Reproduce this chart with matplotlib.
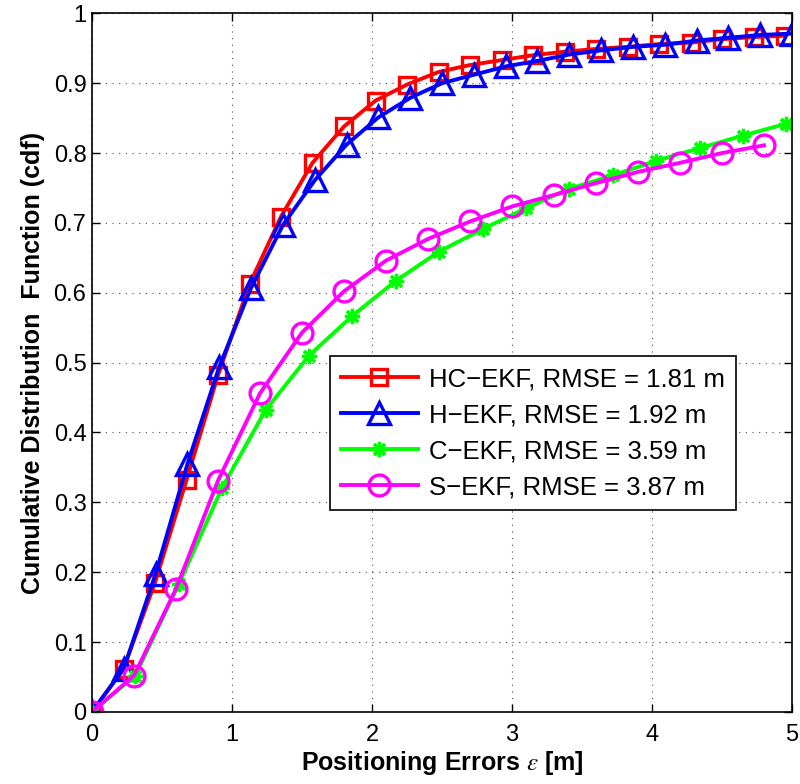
import matplotlib
matplotlib.use("Agg")
import matplotlib.pyplot as plt

plt.rcParams["font.family"] = ["Liberation Sans", "DejaVu Sans"]
plt.rcParams["mathtext.fontset"] = "stix"

# HC-EKF
hc_x = [0, 0.225, 0.45, 0.675, 0.9, 1.125, 1.35, 1.575, 1.8, 2.025, 2.25, 2.475,
        2.7, 2.925, 3.15, 3.375, 3.6, 3.825, 4.05, 4.275, 4.5, 4.725, 4.95]
hc_y = [0, 0.062, 0.185, 0.332, 0.482, 0.612, 0.709, 0.786, 0.838, 0.875, 0.898, 0.916,
        0.926, 0.933, 0.940, 0.945, 0.949, 0.952, 0.956, 0.958, 0.963, 0.966, 0.968]

# H-EKF
h_x = [0, 0.227, 0.455, 0.682, 0.909, 1.136, 1.364, 1.591, 1.818, 2.045, 2.273, 2.5,
       2.727, 2.955, 3.182, 3.409, 3.636, 3.864, 4.091, 4.318, 4.545, 4.773, 5.0]
h_y = [0, 0.062, 0.198, 0.355, 0.494, 0.607, 0.697, 0.761, 0.812, 0.851, 0.879, 0.900,
       0.912, 0.924, 0.932, 0.941, 0.947, 0.952, 0.955, 0.961, 0.965, 0.969, 0.971]

# C-EKF
c_x = [0, 0.31, 0.62, 0.93, 1.24, 1.55, 1.86, 2.17, 2.48, 2.79, 3.1, 3.41,
       3.72, 4.03, 4.34, 4.65, 4.96]
c_y = [0, 0.052, 0.183, 0.321, 0.432, 0.51, 0.567, 0.617, 0.659, 0.691, 0.721, 0.749,
       0.768, 0.789, 0.807, 0.825, 0.842]

# S-EKF
s_x = [0, 0.3, 0.6, 0.9, 1.2, 1.5, 1.8, 2.1, 2.4, 2.7, 3.0, 3.3,
       3.6, 3.9, 4.2, 4.5, 4.8]
s_y = [0, 0.052, 0.176, 0.331, 0.456, 0.543, 0.602, 0.646, 0.677, 0.702, 0.7235, 0.740,
       0.757, 0.773, 0.786, 0.800, 0.811]

labels = ["HC\u2212EKF, RMSE = 1.81 m", "H\u2212EKF, RMSE = 1.92 m",
          "C\u2212EKF, RMSE = 3.59 m", "S\u2212EKF, RMSE = 3.87 m"]

fig = plt.figure(figsize=(8, 7.84), dpi=100)
ax = fig.add_axes([0.115, 0.092, 0.875, 0.891])

lw = 2.8
ax.plot(hc_x, hc_y, color="#ff0000", marker="s", markersize=12, mfc="none",
        mew=2.4, linewidth=lw, label=labels[0])
ax.plot(h_x, h_y, color="#0000ff", marker="^", markersize=16, mfc="none",
        mew=2.4, linewidth=lw, label=labels[1])
ax.plot(c_x, c_y, color="#00ff00", marker=(8, 2, 0), markersize=11,
        mew=2.4, linewidth=lw, label=labels[2])
ax.plot(s_x, s_y, color="#ff00ff", marker="o", markersize=15, mfc="none",
        mew=2.4, linewidth=lw, label=labels[3])

ax.set_xlim(0, 5)
ax.set_ylim(0, 1)
ax.set_xticks([0, 1, 2, 3, 4, 5])
ax.set_yticks([0, 0.1, 0.2, 0.3, 0.4, 0.5, 0.6, 0.7, 0.8, 0.9, 1])
ax.set_yticklabels(["0", "0.1", "0.2", "0.3", "0.4", "0.5", "0.6", "0.7", "0.8", "0.9", "1"])
ax.tick_params(direction="in", top=True, right=True, labelsize=17, length=6, width=1)
ax.tick_params(axis="x", pad=9)
ax.tick_params(axis="y", pad=4)
ax.grid(True, linestyle=(0, (1, 5)), color="black", linewidth=0.8, alpha=0.7)
for sp in ax.spines.values():
    sp.set_linewidth(1.2)

ax.set_xlabel(r"Positioning Errors $\varepsilon$ [m]", fontsize=18, fontweight="bold",
              labelpad=2)
ax.set_ylabel("Cumulative Distribution  Function (cdf)", fontsize=18, fontweight="bold",
              labelpad=6)

leg = ax.legend(loc="upper left", bbox_to_anchor=(0.34, 0.509), fontsize=18.5,
                fancybox=False, framealpha=1, edgecolor="black", handlelength=3,
                borderpad=0.42, labelspacing=0.47, handletextpad=0.45, borderaxespad=0)
leg.get_frame().set_linewidth(1.2)

plt.savefig("out.png", dpi=100)
